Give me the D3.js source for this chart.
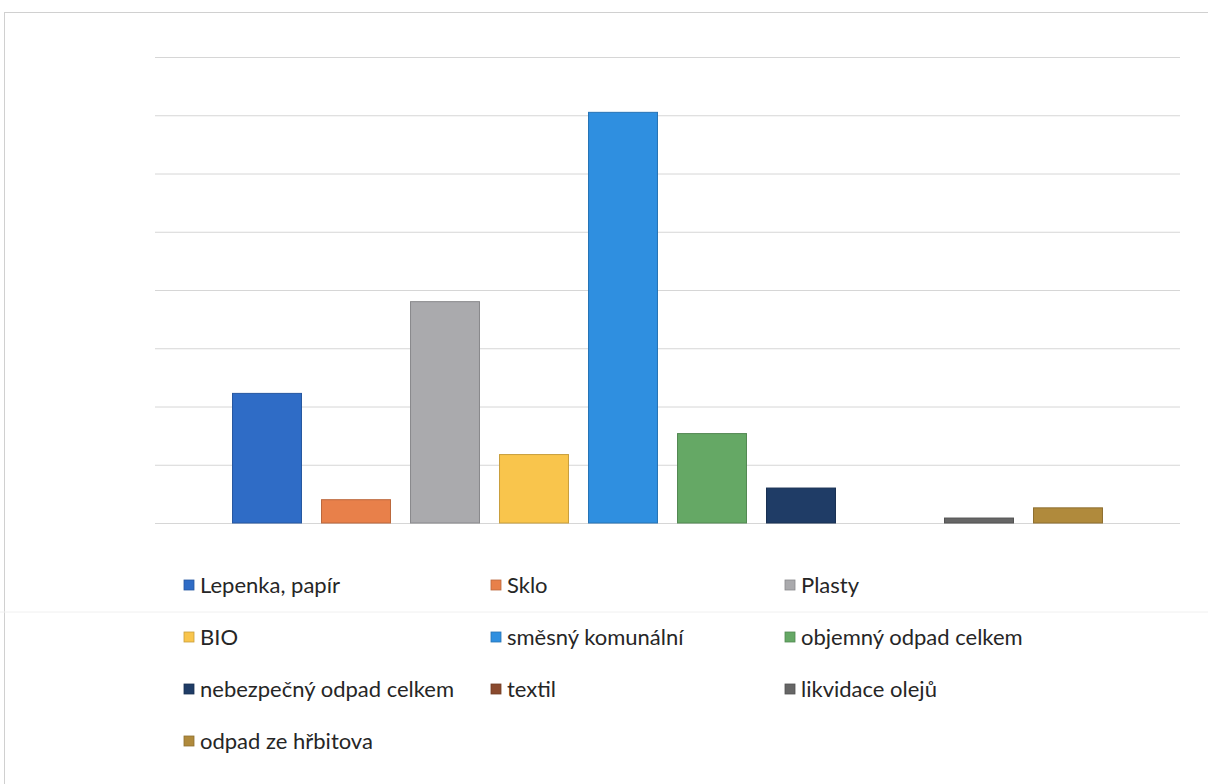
<!DOCTYPE html>
<html><head><meta charset="utf-8">
<script src="https://cdn.jsdelivr.net/npm/d3@7"></script>
<style>body{margin:0;background:#fff;}svg{display:block;}</style>
</head><body>
<svg id="chart" width="1208" height="784"></svg>
<script>
const categories = ["Lepenka, papír","Sklo","Plasty","BIO","směsný komunální","objemný odpad celkem","nebezpečný odpad celkem","textil","likvidace olejů","odpad ze hřbitova"];
const values = [44.5, 8, 76, 23.5, 141, 30.7, 12, 0, 1.7, 5.2];
const colors = ["#2f6cc6","#e8804a","#aaaaad","#f9c54c","#2f8fe0","#65a865","#1f3c66","#8a4a2e","#666666","#b08a3c"];
const yTicks = [0,20,40,60,80,100,120,140,160];

const svg = d3.select("#chart");
// frame
svg.append("rect").attr("x",4.5).attr("y",12.5).attr("width",1250).attr("height",800)
  .attr("fill","none").attr("stroke","#d0d0d0").attr("stroke-width",1);
// faint scan line
svg.append("line").attr("x1",0).attr("x2",1208).attr("y1",612).attr("y2",612)
  .attr("stroke","#f0f0f0").attr("stroke-width",1);

const x = d3.scaleBand().domain(categories).range([155,1180]).paddingInner(0.225).paddingOuter(0.871);
const y = d3.scaleLinear().domain([0,160]).range([523,57]);

const yAxis = d3.axisLeft(y).tickValues(yTicks).tickSize(-(1180-155)).tickFormat("");
const g = svg.append("g").attr("transform","translate(155,0)").call(yAxis);
g.select(".domain").remove();
g.selectAll(".tick line").attr("stroke","#d6d6d6").attr("stroke-width",1);

svg.append("g").selectAll("rect").data(categories).join("rect")
  .attr("x",d=>x(d)).attr("width",x.bandwidth())
  .attr("y",(d,i)=>y(values[i])).attr("height",(d,i)=>y(0)-y(values[i]))
  .attr("fill",(d,i)=>colors[i])
  .attr("stroke",(d,i)=>d3.color(colors[i]).darker(0.6))
  .attr("stroke-width",(d,i)=>values[i]>0?1:0);

// legend
const colX = [184,491,785];
const rowY = [585,637,689,741];
const lg = svg.append("g").selectAll("g").data(categories).join("g")
  .attr("transform",(d,i)=>`translate(${colX[i%3]},${rowY[Math.floor(i/3)]})`);
lg.append("rect").attr("x",0).attr("y",-5).attr("width",10).attr("height",10)
  .attr("fill",(d,i)=>colors[i]).attr("stroke",(d,i)=>d3.color(colors[i]).darker(0.6)).attr("stroke-width",0.8);
lg.append("text").attr("x",16).attr("y",0).attr("dy","0.36em")
  .attr("font-family","Lato, 'Open Sans', sans-serif").attr("font-size",22)
  .attr("fill","#262626").text(d=>d);
</script>
</body></html>
